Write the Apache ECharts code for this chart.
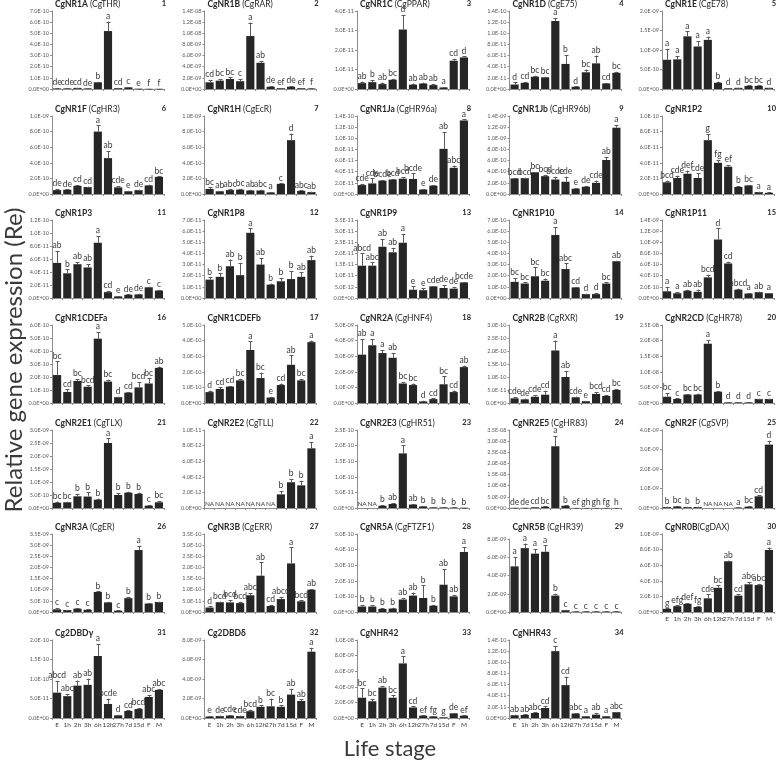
<!DOCTYPE html>
<html><head><meta charset="utf-8">
<script src="https://cdn.jsdelivr.net/npm/echarts/dist/echarts.min.js"></script>
<style>html,body{margin:0;padding:0;background:#fff}#c{width:778px;height:762px}</style>
</head><body><div id="c"></div>
<script>
const stages = ['E','1h','2h','3h','6h','12h','27h','7d','15d','F','M'];
const names = ['CgNR1A','CgNR1B','CgNR1C','CgNR1D','CgNR1E','CgNR1F','CgNR1H','CgNR1Ja','CgNR1Jb','CgNR1P2',
 'CgNR1P3','CgNR1P8','CgNR1P9','CgNR1P10','CgNR1P11','CgNR1CDEFa','CgNR1CDEFb','CgNR2A','CgNR2B','CgNR2CD',
 'CgNR2E1','CgNR2E2','CgNR2E3','CgNR2E5','CgNR2F','CgNR3A','CgNR3B','CgNR5A','CgNR5B','CgNR0B',
 'Cg2DBDγ','Cg2DBDδ','CgNHR42','CgNHR43'];
const subs = [' (CgTHR)',' (CgRAR)',' (CgPPAR)',' (CgE75)',' (CgE78)',' (CgHR3)',' (CgEcR)',' (CgHR96a)',' (CgHR96b)','',
 '','','','','','','',' (CgHNF4)',' (CgRXR)',' (CgHR78)',
 ' (CgTLX)',' (CgTLL)',' (CgHR51)',' (CgHR83)',' (CgSVP)',' (CgER)',' (CgERR)',' (CgFTZF1)',' (CgHR39)','(CgDAX)',
 '','','',''];
// axis: max, step (in units of 10^exp), exp
const yMax  = [7,14,4,14,20, 10,10,14,14,10, 12,7,35,7,14, 6,5,5,30,25, 30,10,25,35,4, 35,35,5,8,10, 20,8,10,14];
const yStep = [1,2,1,2,5, 2,2,2,2,2, 2,1,5,1,2, 1,1,1,5,5, 5,2,5,5,1, 5,5,1,2,2, 5,2,2,2];
const yExp  = [-10,-9,-11,-11,-10, -10,-10,-11,-10,-11, -11,-11,-12,-10,-10, -10,-10,-9,-11,-9, -10,-12,-11,-9,-9, -10,-11,-10,-9,-10, -11,-9,-9,-11];

const v1=[0.05,0.05,0.1,0.05,0.6,5.2,0.08,0.15,0.03,0.02,0.02], e1=[0.02,0.02,0.02,0.01,0.05,0.85,0.02,0.03,0.01,0.01,0.01], l1=['de','cde','cd','de','b','a','cd','c','e','f','f'];
const v2=[1.2,1.5,1.8,1.4,9.5,4.7,0.4,0.15,0.4,0.15,0.1], e2=[0.4,0.3,0.3,0.4,2.4,0.3,0.1,0.05,0.1,0.05,0.05], l2=['cd','bc','bc','c','a','ab','de','ef','de','ef','f'];
const v3=[0.3,0.35,0.25,0.47,3.05,0.22,0.28,0.2,0.08,1.45,1.62], e3=[0.08,0.1,0.08,0.05,0.75,0.06,0.05,0.05,0.02,0.1,0.05], l3=['ab','b','ab','bc','d','ab','ab','ab','a','cd','d'];
const v4=[0.8,1.1,2.2,2.1,12.2,4.5,0.4,3.0,4.6,1.0,2.9], e4=[0.4,0.2,0.2,0.1,0.5,1.6,0.05,0.5,1.4,0.1,0.2], l4=['d','cd','bc','bc','a','b','d','bc','ab','cd','bc'];
const v5=[7.5,7.6,13.5,10.9,12.6,1.6,0.2,0.3,0.8,0.8,0.3], e5=[2.8,0.8,1.3,1.4,0.8,0.3,0.05,0.05,0.1,0.1,0.05], l5=['a','a','a','a','a','b','d','d','bc','bc','d'];
const v6=[0.5,0.55,1.05,0.9,8.0,4.6,0.85,0.35,0.5,1.1,2.2], e6=[0.15,0.05,0.1,0.05,0.8,0.9,0.15,0.05,0.05,0.1,0.05], l6=['de','de','cd','cd','a','ab','cde','e','de','cd','bc'];
const v7=[0.65,0.35,0.5,0.55,0.45,0.45,0.2,1.3,6.9,0.4,0.25], e7=[0.2,0.05,0.1,0.1,0.1,0.1,0.05,0.05,0.85,0.05,0.05], l7=['bc','ab','abc','bc','ab','abc','a','c','d','abc','ab'];
const v8=[1.6,1.9,2.4,2.6,2.75,2.7,0.8,1.5,8.1,4.7,13.2], e8=[0.2,0.9,0.1,0.1,0.3,1.0,0.1,0.1,3.0,0.4,0.2], l8=['cde','cde','bcde','bcd','bcd','bcde','e','de','ab','abc','a'];
const v9=[2.8,2.85,3.9,3.2,2.6,2.2,0.95,1.3,2.0,6.1,11.9], e9=[0.1,0.1,0.05,0.2,0.5,0.9,0.1,0.1,0.4,0.5,0.5], l9=['bcd','bcd','bc','bcd','bcde','cde','e','de','cde','ab','a'];
const v10=[1.5,2.05,2.6,2.05,6.9,4.0,3.5,0.9,1.1,0.25,0.15], e10=[0.2,0.3,0.4,0.6,0.8,0.4,0.2,0.1,0.05,0.05,0.05], l10=['bcd','cde','def','cde','g','fg','ef','b','bc','a','a'];
const v11=[5.4,3.8,5.2,4.7,8.5,0.9,0.25,0.5,0.55,1.65,1.15], e11=[1.8,0.6,0.3,0.5,1.0,0.2,0.05,0.05,0.1,0.1,0.1], l11=['ab','b','ab','ab','a','cd','e','de','de','c','c'];
const v12=[1.65,1.9,2.85,2.05,5.85,3.0,1.2,1.5,1.7,1.9,3.4], e12=[0.2,0.3,0.6,1.1,0.4,0.6,0.1,0.3,0.7,0.4,0.4], l12=['b','b','ab','b','a','ab','b','b','b','ab','ab'];
const v13=[14.5,14.5,23,20.5,24.8,3.7,3.5,5.2,4.5,4.2,7.0], e13=[5.5,1.5,3.5,2.0,4.0,1.5,0.8,0.2,1.3,0.8,0.1], l13=['abcd','abc','ab','ab','a','e','e','cde','de','de','bcde'];
const v14=[1.45,1.3,1.95,1.55,5.65,2.6,0.95,0.35,0.35,1.3,3.3], e14=[0.35,0.1,0.8,0.2,0.7,0.5,0.05,0.05,0.1,0.1,0.05], l14=['bc','bc','bc','bc','a','abc','cd','d','d','bc','ab'];
const v15=[1.2,0.85,1.3,1.1,3.7,10.5,6.2,1.5,0.8,1.05,0.85], e15=[0.8,0.2,0.2,0.4,0.5,2.0,0.3,0.2,0.05,0.1,0.05], l15=['a','a','ab','ab','bcd','d','cd','abcd','a','ab','a'];
const v16=[2.15,0.85,1.7,1.25,4.95,1.65,0.45,0.8,1.2,1.5,2.7], e16=[1.05,0.2,0.15,0.1,0.5,0.15,0.05,0.05,0.4,0.4,0.1], l16=['bc','cd','bc','bcd','a','bc','d','cd','bcd','bc','ab'];
const v17=[0.7,0.9,1.05,1.45,3.4,1.6,0.35,1.15,2.45,1.45,3.9], e17=[0.1,0.1,0.05,0.1,0.55,0.35,0.05,0.1,0.6,0.1,0.1], l17=['d','cd','cd','bc','a','bc','e','cd','ab','bc','a'];
const v18=[3.1,3.7,3.2,2.9,1.25,1.15,0.1,0.25,1.2,0.7,2.3], e18=[1.0,0.4,0.2,0.3,0.1,0.1,0.05,0.05,0.5,0.1,0.1], l18=['ab','a','a','ab','bc','bc','d','cd','bc','cd','ab'];
const v19=[1.8,1.4,2.4,3.2,20.2,10.0,2.2,0.7,3.5,2.7,5.0], e19=[0.5,0.3,0.6,1.5,3.8,2.3,0.3,0.1,0.7,0.3,0.3], l19=['cde','de','cde','cd','a','ab','cde','e','bcd','cd','bc'];
const v20=[2.0,1.3,2.7,2.7,19.0,3.6,0.2,0.2,0.2,1.3,1.3], e20=[1.2,0.2,0.2,0.3,1.2,0.3,0.05,0.05,0.05,0.1,0.1], l20=['bc','c','bc','bc','a','b','d','d','d','c','c'];
const v21=[2.0,2.2,4.5,4.4,3.2,25.0,5.0,5.9,5.4,0.9,2.2], e21=[0.5,0.2,1.0,1.6,0.4,1.8,0.8,0.4,0.5,0.2,0.5], l21=['bc','bc','b','b','b','a','b','b','b','c','bc'];
const v22=[null,null,null,null,null,null,null,1.75,3.3,2.9,7.65], e22=[0,0,0,0,0,0,0,0.4,0.4,0.6,0.8], l22=['NA','NA','NA','NA','NA','NA','NA','b','b','b','a'];
const v23=[null,null,0.7,1.3,17.5,1.1,0.5,0.2,0.2,0.15,0.1], e23=[0,0,0.2,0.3,2.6,0.2,0.1,0.05,0.05,0.05,0.05], l23=['NA','NA','b','ab','a','ab','b','b','b','b','b'];
const v24=[0.1,0.1,0.35,0.6,27.7,1.0,0.05,0.03,0.03,0.05,0.02], e24=[0.05,0.05,0.05,0.1,4.5,0.2,0.02,0.01,0.01,0.02,0.01], l24=['de','de','cd','bc','a','b','ef','gh','gh','fg','h'];
const v25=[0.05,0.08,0.05,0.05,null,null,null,0.02,0.07,0.6,3.25], e25=[0.02,0.03,0.01,0.02,0,0,0,0.01,0.02,0.05,0.2], l25=['b','bc','b','b','NA','NA','NA','a','bc','cd','d'];
const v26=[1.2,0.9,1.5,1.0,9.0,4.3,0.6,6.2,27.8,3.8,4.5], e26=[0.5,0.1,0.3,0.3,0.3,0.3,0.1,0.6,1.9,0.2,0.2], l26=['c','c','c','c','b','b','c','b','a','b','b'];
const v27=[2.0,4.4,4.3,4.0,7.5,16.3,2.7,5.8,21.8,4.8,10.0], e27=[0.5,0.3,1.0,0.6,1.0,6.0,0.5,1.0,7.2,0.4,0.3], l27=['d','bcd','bcd','bcd','abc','ab','cd','abcd','a','bcd','ab'];
const v28=[0.35,0.35,0.2,0.22,0.8,1.05,0.9,0.4,1.75,1.0,3.85], e28=[0.1,0.1,0.05,0.05,0.1,0.2,0.8,0.05,1.0,0.1,0.3], l28=['b','b','b','b','ab','ab','b','b','ab','ab','a'];
const v29=[5.0,7.0,6.4,6.6,1.8,0.2,0.05,0.05,0.05,0.05,0.05], e29=[1.0,0.5,0.5,0.7,0.2,0.05,0.01,0.01,0.01,0.01,0.01], l29=['a','a','a','a','b','c','c','c','c','c','c'];
const v30=[0.4,0.75,1.05,0.65,1.75,3.1,6.5,2.1,3.55,3.45,7.95], e30=[0.05,0.1,0.1,0.1,0.5,0.3,0.1,0.15,0.3,0.15,0.3], l30=['g','efg','def','fg','cde','bc','ab','cd','abc','abc','a'];
const v31=[6.5,5.6,8.3,8.5,15.9,3.6,0.7,1.8,2.3,5.4,7.2], e31=[3.0,0.6,1.3,1.6,3.1,1.4,0.1,0.15,0.2,0.5,0.2], l31=['abcd','abc','ab','ab','a','bcde','d','cd','bcd','abc','abc'];
const v32=[0.15,0.2,0.25,0.2,0.7,1.15,1.2,1.15,2.4,1.75,6.8], e32=[0.05,0.05,0.05,0.05,0.15,0.15,0.8,0.15,0.6,0.15,0.4], l32=['e','de','cde','cde','bcd','b','bc','b','ab','ab','a'];
const v33=[2.6,2.15,3.9,2.6,7.0,1.35,0.3,0.2,0.1,0.6,0.3], e33=[1.2,0.3,0.2,0.3,0.9,0.15,0.05,0.03,0.02,0.05,0.05], l33=['bc','bc','ab','bc','a','cd','ef','fg','g','de','ef'];
const v34=[0.5,0.55,0.9,1.8,12.0,5.9,0.8,0.3,0.6,0.3,1.05], e34=[0.1,0.1,0.1,0.3,0.9,1.5,0.1,0.05,0.3,0.05,0.05], l34=['ab','ab','abc','cd','c','cd','abc','a','ab','a','abc'];

const V=[v1,v2,v3,v4,v5,v6,v7,v8,v9,v10,v11,v12,v13,v14,v15,v16,v17,v18,v19,v20,v21,v22,v23,v24,v25,v26,v27,v28,v29,v30,v31,v32,v33,v34];
const E=[e1,e2,e3,e4,e5,e6,e7,e8,e9,e10,e11,e12,e13,e14,e15,e16,e17,e18,e19,e20,e21,e22,e23,e24,e25,e26,e27,e28,e29,e30,e31,e32,e33,e34];
const L=[l1,l2,l3,l4,l5,l6,l7,l8,l9,l10,l11,l12,l13,l14,l15,l16,l17,l18,l19,l20,l21,l22,l23,l24,l25,l26,l27,l28,l29,l30,l31,l32,l33,l34];

const FF = 'Lato, "Liberation Sans", sans-serif';
const colLeft = [52, 204.5, 357, 509.5, 662];
const rowZero = [89, 194, 298, 403, 508, 612, 718];
const W = 112, H = 78;

function fmtExp(val, ex){
  if (val === 0) return '0.0E+00';
  const s = (val * Math.pow(10, ex)).toExponential(1);
  const parts = s.split('e');
  const n = parseInt(parts[1], 10);
  return parts[0] + 'E' + (n < 0 ? '-' : '+') + String(Math.abs(n)).padStart(2, '0');
}

function makeRender(i){
  return function(params, api){
    const k = api.value(0), v = api.value(1), e = api.value(2);
    const lab = L[i][k];
    const base = api.coord([k, v]);
    const tp = api.coord([k, v + e]);
    const ch = [];
    if (lab !== 'NA' && e > 0){
      const x = Math.round(base[0]) + 0.5;
      ch.push({type:'line', shape:{x1:x, y1:base[1], x2:x, y2:tp[1]}, style:{stroke:'#5a5a5a', lineWidth:1}});
      ch.push({type:'line', shape:{x1:x-2, y1:Math.round(tp[1])+0.5, x2:x+2, y2:Math.round(tp[1])+0.5}, style:{stroke:'#5a5a5a', lineWidth:1}});
    }
    ch.push({type:'text', x: tp[0], y: tp[1] - 1, style:{text: lab, fill:'#3a3a3a', fontSize: lab === 'NA' ? 6.5 : 8.5, fontFamily: FF, textAlign:'center', textVerticalAlign:'bottom'}});
    return {type:'group', children: ch};
  };
}

const grids=[], xAxes=[], yAxes=[], series=[], graphics=[];
for (let i = 0; i < 34; i++){
  const c = i % 5, r = Math.floor(i / 5);
  const left = colLeft[c];
  const top = rowZero[r] - H + (i === 28 ? 5 : 0);
  grids.push({left: left, top: top, width: W, height: rowZero[r] - top});
  xAxes.push({type:'category', gridIndex:i, data:stages, boundaryGap:true,
    axisLine:{lineStyle:{color:'#8c8c8c', width:1}},
    axisTick:{show:true, length:2, lineStyle:{color:'#8c8c8c'}},
    axisLabel:{show: i >= 29, fontSize:6.5, color:'#404040', margin:3, interval:0, fontFamily: FF}});
  yAxes.push({type:'value', gridIndex:i, min:0, max:yMax[i], interval:yStep[i],
    splitLine:{show:false},
    axisLine:{show:true, lineStyle:{color:'#8c8c8c', width:1}},
    axisTick:{show:true, length:2, lineStyle:{color:'#8c8c8c'}},
    axisLabel:{fontSize:5.5, color:'#595959', margin:3, fontFamily: FF, formatter: (function(ex){return function(v){return fmtExp(v, ex);};})(yExp[i])}});
  series.push({type:'bar', xAxisIndex:i, yAxisIndex:i, data:V[i], barCategoryGap:'20%', itemStyle:{color:'#262626'}, silent:true, animation:false});
  series.push({type:'custom', xAxisIndex:i, yAxisIndex:i, clip:false, z:3, silent:true, animation:false,
    data: V[i].map(function(v, k){ return [k, v == null ? 0 : v, E[i][k] == null ? 0 : E[i][k]]; }),
    renderItem: makeRender(i)});
  graphics.push({type:'text', x: left + 3, y: rowZero[r] - H - 7,
    style:{text: '{b|' + names[i] + '}{n|' + subs[i] + '}', textVerticalAlign:'middle',
      rich:{b:{fontWeight:'bold', fontSize:8.5, fill:'#262626', fontFamily: FF}, n:{fontSize:8.5, fill:'#262626', fontFamily: FF}}}});
  graphics.push({type:'text', x: left + W + 2, y: rowZero[r] - H - 7,
    style:{text: String(i + 1), fontWeight:'bold', fontSize:7.5, fill:'#262626', fontFamily: FF, textAlign:'right', textVerticalAlign:'middle'}});
}
graphics.push({type:'text', x: 14, y: 360, rotation: Math.PI / 2,
  style:{text:'Relative gene expression (Re)', fontSize:24, fill:'#3a3a3a', fontFamily: FF, textAlign:'center', textVerticalAlign:'middle'}});
graphics.push({type:'text', x: 390, y: 749,
  style:{text:'Life stage', fontSize:22, fill:'#3a3a3a', fontFamily: FF, textAlign:'center', textVerticalAlign:'middle'}});

const chart = echarts.init(document.getElementById('c'));
chart.setOption({animation:false, grid:grids, xAxis:xAxes, yAxis:yAxes, series:series, graphic:graphics});
</script></body></html>
